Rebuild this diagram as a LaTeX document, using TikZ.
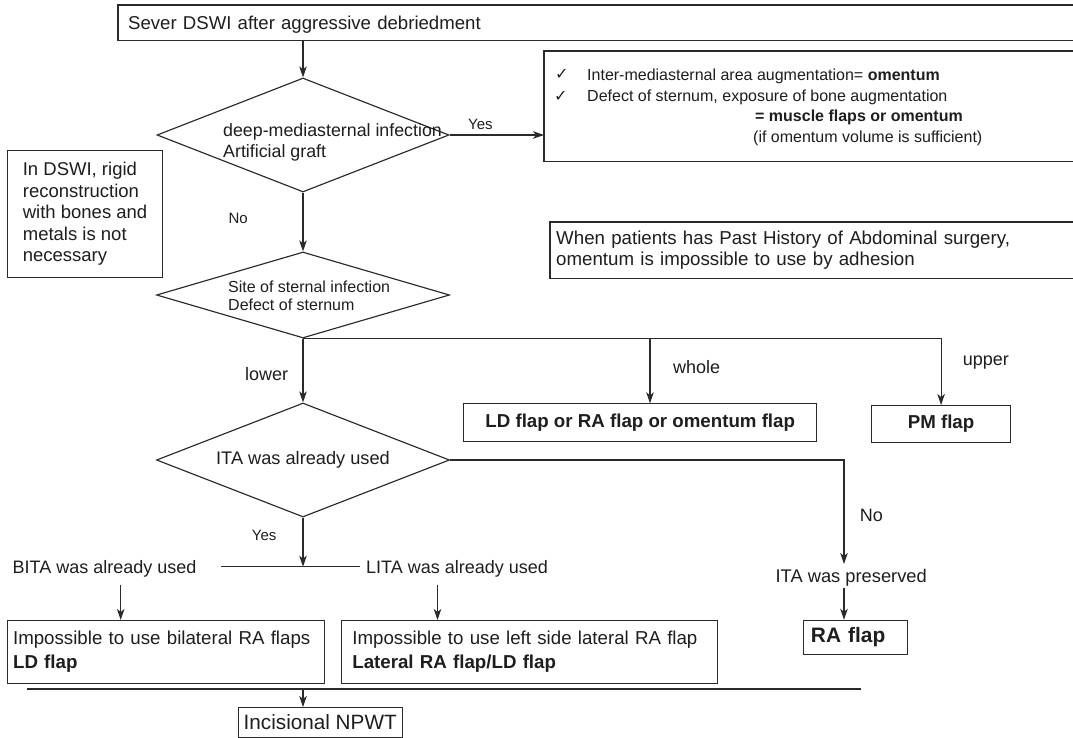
\documentclass[tikz,border=0pt]{standalone}
\usepackage{fontspec}
\setmainfont{Liberation Sans}
\newfontfamily\symfont{DejaVu Sans}
\usetikzlibrary{arrows.meta,shapes.geometric}
\definecolor{ln}{HTML}{2A2A2A}
\definecolor{tx}{HTML}{1E1E1E}
\newcommand{\fsz}[2]{\fontsize{#1}{#2}\selectfont}
\begin{document}
\begin{tikzpicture}[x=1pt,y=-1pt,
  every node/.style={text=tx},
  lw/.style={line width=1.15pt, draw=ln},
  arr/.style={lw, -{Stealth[length=11pt,width=7.5pt,inset=3pt]}},
  bx/.style={lw, inner sep=0pt, anchor=north west},
  obx/.style={inner sep=0pt, anchor=north west},
  dia/.style={diamond, lw, inner sep=0pt},
  lbl/.style={inner sep=0pt, anchor=base west},
  lab/.style={lbl, font=\fsz{18}{21}},
  small/.style={lbl, font=\fsz{15}{18}},
  chk/.style={lbl, font=\symfont\fsz{16}{18}},
]
\useasboundingbox[fill=white] (0,0) rectangle (1073,738);

% ---- top box (open to the right edge)
\node[obx, minimum width=955pt, minimum height=35pt, text width=935pt, inner xsep=10pt, text height=14pt, text depth=1pt, align=left, font=\fsz{18.6}{22}] (top) at (118,5) {Sever DSWI after aggressive debriedment};
\draw[lw] (top.north east) -- (top.north west) -- (top.south west) -- (top.south east);

% ---- diamond 1
\node[dia, minimum width=292pt, minimum height=114pt] (d1) at (303,135) {};
\node[lbl, font=\fsz{17.8}{21}] (d1a) at (223,137) {deep-mediasternal infection};
\node[lbl, font=\fsz{17.8}{21}] (d1b) at (223,158) {Artificial graft};

% ---- top-right box (open)
\node[obx, minimum width=529pt, minimum height=110pt] (tr) at (544,51) {};
\draw[lw] (tr.north east) -- (tr.north west) -- (tr.south west) -- (tr.south east);
\node[chk] (c1) at (555,80) {✓};
\node[chk] (c2) at (554,102) {✓};
\node[lbl, font=\fsz{16}{20}] (r1) at (587,80.4) {Inter-mediasternal area augmentation= \textbf{omentum}};
\node[lbl, font=\fsz{16}{20}] (r2) at (587,101.2) {Defect of sternum, exposure of bone augmentation};
\node[lbl, font=\fsz{16}{20}] (r3) at (755,121.7) {\textbf{= muscle flaps or omentum}};
\node[lbl, font=\fsz{16}{20}] (r4) at (753,142.2) {(if omentum volume is sufficient)};

% ---- left note box
\node[bx, minimum width=155pt, minimum height=127pt, align=left, font=\fsz{18.5}{21.5}] (lb) at (7,150) {In DSWI, rigid\\reconstruction\\with bones and\\metals is not\\necessary};

% ---- right note box (open)
\node[obx, minimum width=523pt, minimum height=56pt, text width=511pt, inner xsep=6pt, align=left, font=\fsz{18.7}{21}] (wp) at (550,222) {When patients has Past History of Abdominal surgery,\\omentum is impossible to use by adhesion};
\draw[lw] (wp.north east) -- (wp.north west) -- (wp.south west) -- (wp.south east);

% ---- diamond 2
\node[dia, minimum width=293pt, minimum height=86pt] (d2) at (303,295) {};
\node[lbl, font=\fsz{16}{18}] (d2a) at (228,292) {Site of sternal infection};
\node[lbl, font=\fsz{16}{18}] (d2b) at (228,310) {Defect of sternum};

% ---- result boxes of diamond 2
\node[bx, minimum width=352.7pt, minimum height=38pt, font=\bfseries\fsz{18.7}{22}] (ld) at (463.3,403.3) {LD flap or RA flap or omentum flap};
\node[bx, minimum width=139pt, minimum height=36.5pt, font=\bfseries\fsz{18.7}{22}] (pm) at (871,405) {PM flap};

% ---- diamond 3
\node[dia, shape aspect=2.6, minimum width=293pt, minimum height=114pt, font=\fsz{18.2}{21}] (d3) at (303,460) {ITA was already used};

% ---- lower texts
\node[lab] (bita) at (12.5,573) {BITA was already used};
\node[lab] (lita) at (366,573) {LITA was already used};
\node[lbl, font=\fsz{18.3}{21}] (itap) at (775.4,582) {ITA was preserved};

\node[bx, minimum width=104.4pt, minimum height=34pt, text width=88.8pt, inner xsep=7.8pt, align=left, font=\bfseries\fsz{20.9}{24}] (ra) at (802.6,619.8) {RA flap};
\node[bx, minimum width=317pt, minimum height=63pt, text width=306pt, inner xsep=5.5pt, align=left, font=\fsz{18.7}{24}] (blb) at (7,620) {Impossible to use bilateral RA flaps\\\textbf{LD flap}};
\node[bx, minimum width=376pt, minimum height=63pt, text width=354.4pt, inner xsep=10.8pt, align=left, font=\fsz{18.7}{24}] (bmb) at (341,620) {Impossible to use left side lateral RA flap\\\textbf{Lateral RA flap/LD flap}};
\node[bx, minimum width=164.3pt, minimum height=30pt, font=\fsz{20.7}{24}] (np) at (237.5,707) {Incisional NPWT};

% ---- coordinates for connector corners / free ends
\coordinate (wh) at (650,338);
\coordinate (noEnd) at (844,564);
\coordinate (raIn) at (844,587.5);
\coordinate (yj) at (303,566.7);
\coordinate (hl) at (221,566.7);
\coordinate (hr) at (360,566.7);
\coordinate (ba) at (120.7,584.6);
\coordinate (la) at (437.5,584.6);
\coordinate (bus1) at (27,689);
\coordinate (bus2) at (861,689);
\coordinate (busj) at (303,689);

% ---- connectors
\draw[arr] (top.south -| d1.north) -- (d1.north);
\draw[arr] (d1.east) -- (d1.east -| tr.west);
\draw[arr] (d1.south) -- (d2.north);
\draw[arr] (d2.south) -- (d3.north);
\draw[arr] (d2.south) -| (pm.north);
\draw[arr] (wh) -- (wh |- ld.north);
\draw[arr] (d3.east) -| (noEnd);
\draw[arr] (raIn) -- (raIn |- ra.north);
\draw[arr] (d3.south) -- (yj);
\draw[lw] (hl) -- (hr);
\draw[arr] (ba) -- (ba |- blb.north);
\draw[arr] (la) -- (la |- bmb.north);
\draw[lw] (bus1) -- (bus2);
\draw[arr] (busj) -- (busj |- np.north);

% ---- connector labels
\node[small] (yes1) at (468,130) {Yes};
\node[small] (no1) at (228.3,223.3) {No};
\node[lab] (lower) at (245,380) {lower};
\node[lab] (whole) at (673,373) {whole};
\node[lab] (upper) at (962.7,365) {upper};
\node[lab] (no2) at (859.7,521) {No};
\node[small] (yes2) at (251.7,540) {Yes};
\end{tikzpicture}
\end{document}
